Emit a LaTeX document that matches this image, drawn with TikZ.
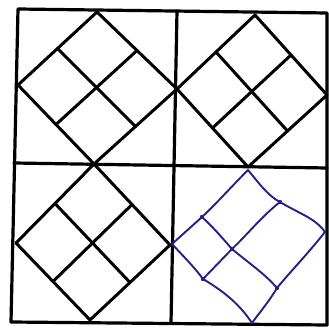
\documentclass[tikz,border=0pt]{standalone}
\usetikzlibrary{calc}
\definecolor{ink}{RGB}{38,32,135}
\tikzset{
  gridline/.style={line width=3.2pt, black, line cap=round, line join=round},
  diamondline/.style={line width=3pt, black, line cap=round, line join=round},
  blueline/.style={line width=1.9pt, ink, line cap=round, line join=round},
}
\newcommand{\diamondq}[5]{% style, top, right, bottom, left
  \draw[#1] (#2) -- (#3) -- (#4) -- (#5) -- cycle;
  \draw[#1] ($(#2)!0.5!(#5)$) -- ($(#3)!0.5!(#4)$);
  \draw[#1] ($(#2)!0.5!(#3)$) -- ($(#5)!0.5!(#4)$);
}
\begin{document}
\begin{tikzpicture}[x=1pt,y=-1pt]
\useasboundingbox (0,0) rectangle (329,328);
\fill[white] (0,0) rectangle (329,328);
% frame corners
\coordinate (TL) at (18,9);
\coordinate (TR) at (327,13);
\coordinate (BR) at (327,325);
\coordinate (BL) at (11,322);
\coordinate (MT) at (177,11);
\coordinate (MB) at (171,323);
\coordinate (ML) at (14,163);
\coordinate (MR) at (327,168);
\draw[gridline] (TL) -- (TR) -- (BR) -- (BL) -- cycle;
\draw[gridline] (MT) -- (MB);
\draw[gridline] (ML) -- (MR);
% top-left diamond
\coordinate (a1) at (97,12);
\coordinate (a2) at (177,89);
\coordinate (a3) at (94,164);
\coordinate (a4) at (18,85);
\diamondq{diamondline}{a1}{a2}{a3}{a4}
% top-right diamond
\coordinate (b1) at (255,15);
\coordinate (b2) at (327,95);
\coordinate (b3) at (248,167);
\coordinate (b4) at (177,89);
\diamondq{diamondline}{b1}{b2}{b3}{b4}
% bottom-left diamond
\coordinate (c1) at (94,164);
\coordinate (c2) at (170,245);
\coordinate (c3) at (90,320);
\coordinate (c4) at (16,243);
\diamondq{diamondline}{c1}{c2}{c3}{c4}
% bottom-right hand-drawn diamond
\coordinate (d1) at (248,170);
\coordinate (d2) at (325,232);
\coordinate (d3) at (252,323);
\coordinate (d4) at (172,244);
\coordinate (e1) at (202,217);
\coordinate (e2) at (280,202);
\coordinate (e3) at (203,279);
\coordinate (e4) at (277,288);
\coordinate (e5) at (232,249);
\draw[blueline] (d1) .. controls (232,186) and (216,204) .. (e1) -- (d4);
\draw[blueline] (d1) .. controls (258,182) and (268,196) .. (e2) .. controls (300,214) and (315,218) .. (d2);
\draw[blueline] (d2) .. controls (305,257) and (290,272) .. (e4) .. controls (270,300) and (260,312) .. (d3);
\draw[blueline] (d4) .. controls (185,258) and (195,268) .. (e3) .. controls (225,292) and (240,305) .. (d3);
\draw[blueline] (e1) .. controls (215,229) and (224,240) .. (e5) .. controls (250,264) and (265,274) .. (e4);
\draw[blueline] (e2) .. controls (262,216) and (246,236) .. (e5) -- (e3);
\foreach \p in {e1,e3,e5,e4,e2}{\fill[ink] (\p) circle (2.2pt);}
\end{tikzpicture}
\end{document}
